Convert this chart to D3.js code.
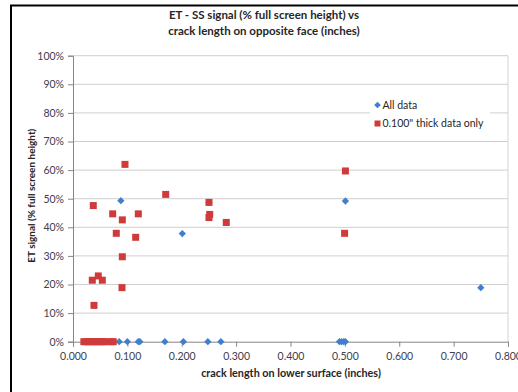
<!DOCTYPE html>
<html>
<head>
<meta charset="utf-8">
<script src="https://cdn.jsdelivr.net/npm/d3@7"></script>
<style>
  body { margin: 0; background: #fff; }
  text { font-family: Lato, "Open Sans", sans-serif; }
</style>
</head>
<body>
<script>
// crack length (inches) and ET signal (fraction of full screen height)
const allDataX = [0.088, 0.201, 0.501, 0.750, 0.250,
  0.085, 0.100, 0.120, 0.123, 0.169, 0.203, 0.248, 0.272, 0.490, 0.494, 0.498, 0.501];
const allDataY = [0.493, 0.378, 0.492, 0.189, 0.487,
  0, 0, 0, 0, 0, 0, 0, 0, 0, 0, 0, 0];

const thickX = [0.0956, 0.1705, 0.2501, 0.0373, 0.0730, 0.1201, 0.2514, 0.2501, 0.0907, 0.2819,
  0.0796, 0.1153, 0.0907, 0.0465, 0.0355, 0.0539, 0.0901, 0.0386, 0.501, 0.4995,
  0.020, 0.025, 0.030, 0.035, 0.040, 0.045, 0.050, 0.055, 0.060, 0.070, 0.074];
const thickY = [0.620, 0.515, 0.487, 0.476, 0.447, 0.447, 0.445, 0.434, 0.426, 0.417,
  0.379, 0.365, 0.297, 0.230, 0.215, 0.215, 0.189, 0.127, 0.597, 0.379,
  0, 0, 0, 0, 0, 0, 0, 0, 0, 0, 0];

const xTicks = [0, 0.1, 0.2, 0.3, 0.4, 0.5, 0.6, 0.7, 0.8];
const yTicks = [0, 0.1, 0.2, 0.3, 0.4, 0.5, 0.6, 0.7, 0.8, 0.9, 1.0];

const titleLines = ['ET - SS signal (% full screen height) vs', 'crack length on opposite face (inches)'];
const xTitle = 'crack length on lower surface (inches)';
const yTitle = 'ET signal (% full screen height)';
const legendNames = ['All data', '0.100" thick data only'];

const width = 518, height = 392;
const margin = {top: 55.7, right: 10, bottom: 50.3, left: 73};
const blue = '#3f7fd0', red = '#d03a3a';

const svg = d3.select('body').append('svg')
  .attr('width', width)
  .attr('height', height);

//outer chart frame
svg.append('rect')
  .attr('x', 11).attr('y', 5.5)
  .attr('width', 600).attr('height', 500)
  .attr('fill', 'none').attr('stroke', '#000').attr('stroke-width', 2);

const x = d3.scaleLinear().domain([0, 0.8]).range([margin.left, width - margin.right]);
const y = d3.scaleLinear().domain([0, 1]).range([height - margin.bottom, margin.top]);

//gridlines
svg.append('g')
  .selectAll('line')
  .data(yTicks.slice(1))
  .enter().append('line')
  .attr('x1', x(0)).attr('x2', x(0.8))
  .attr('y1', d => y(d)).attr('y2', d => y(d))
  .attr('stroke', '#cfcfcf');

//plot border on the right
svg.append('line')
  .attr('x1', x(0.8)).attr('x2', x(0.8))
  .attr('y1', y(1)).attr('y2', y(0))
  .attr('stroke', '#d4d4d4');

//axes
const xAxis = svg.append('g')
  .attr('transform', `translate(0,${y(0)})`)
  .call(d3.axisBottom(x).tickValues(xTicks).tickFormat(d3.format('.3f')).tickSize(5).tickPadding(6));
const yAxis = svg.append('g')
  .attr('transform', `translate(${x(0)},0)`)
  .call(d3.axisLeft(y).tickValues(yTicks).tickFormat(d3.format('.0%')).tickSize(5).tickPadding(4));

[xAxis, yAxis].forEach(a => {
  a.select('.domain').attr('stroke', '#868686');
  a.selectAll('.tick line').attr('stroke', '#868686');
  a.selectAll('.tick text').attr('fill', '#404050').style('font-size', '10.5px');
});

//legend background
svg.append('rect')
  .attr('x', 370).attr('y', 95)
  .attr('width', 120).attr('height', 38)
  .attr('fill', '#fff');

//points: all data (diamonds)
svg.append('g')
  .selectAll('path')
  .data(allDataX.map((d, i) => [d, allDataY[i]]))
  .enter().append('path')
  .attr('d', d3.symbol().type(d3.symbolDiamond2).size(34))
  .attr('transform', d => `translate(${x(d[0])},${y(d[1])})`)
  .attr('fill', blue);

//points: 0.100" thick (squares)
svg.append('g')
  .selectAll('rect')
  .data(thickX.map((d, i) => [d, thickY[i]]))
  .enter().append('rect')
  .attr('x', d => x(d[0]) - 3.5)
  .attr('y', d => y(d[1]) - 3.5)
  .attr('width', 7).attr('height', 7)
  .attr('fill', red);

//legend
const legend = svg.append('g')
  .selectAll('g')
  .data(legendNames)
  .enter().append('g')
  .attr('transform', (d, i) => `translate(377.5,${105 + i * 18.5})`);
legend.append('path')
  .attr('d', (d, i) => d3.symbol().type(i === 0 ? d3.symbolDiamond2 : d3.symbolSquare).size(i === 0 ? 28 : 36)())
  .attr('fill', (d, i) => i === 0 ? blue : red);
legend.append('text')
  .attr('x', 5).attr('dy', '0.35em')
  .attr('fill', '#262626')
  .style('font-size', '10.5px')
  .text(d => d);

//titles
svg.append('g')
  .selectAll('text')
  .data(titleLines)
  .enter().append('text')
  .attr('x', 264).attr('y', (d, i) => 19 + i * 16)
  .attr('text-anchor', 'middle')
  .attr('fill', '#262626')
  .style('font-size', '11.5px').style('font-weight', 'bold')
  .text(d => d);

svg.append('text')
  .attr('x', 291).attr('y', 377)
  .attr('text-anchor', 'middle')
  .attr('fill', '#262626')
  .style('font-size', '10.8px').style('font-weight', 'bold')
  .text(xTitle);

svg.append('text')
  .attr('transform', `translate(35,${(y(0) + y(1)) / 2 - 3}) rotate(-90)`)
  .attr('text-anchor', 'middle')
  .attr('fill', '#262626')
  .style('font-size', '10px').style('font-weight', 'bold')
  .text(yTitle);
</script>
</body>
</html>
